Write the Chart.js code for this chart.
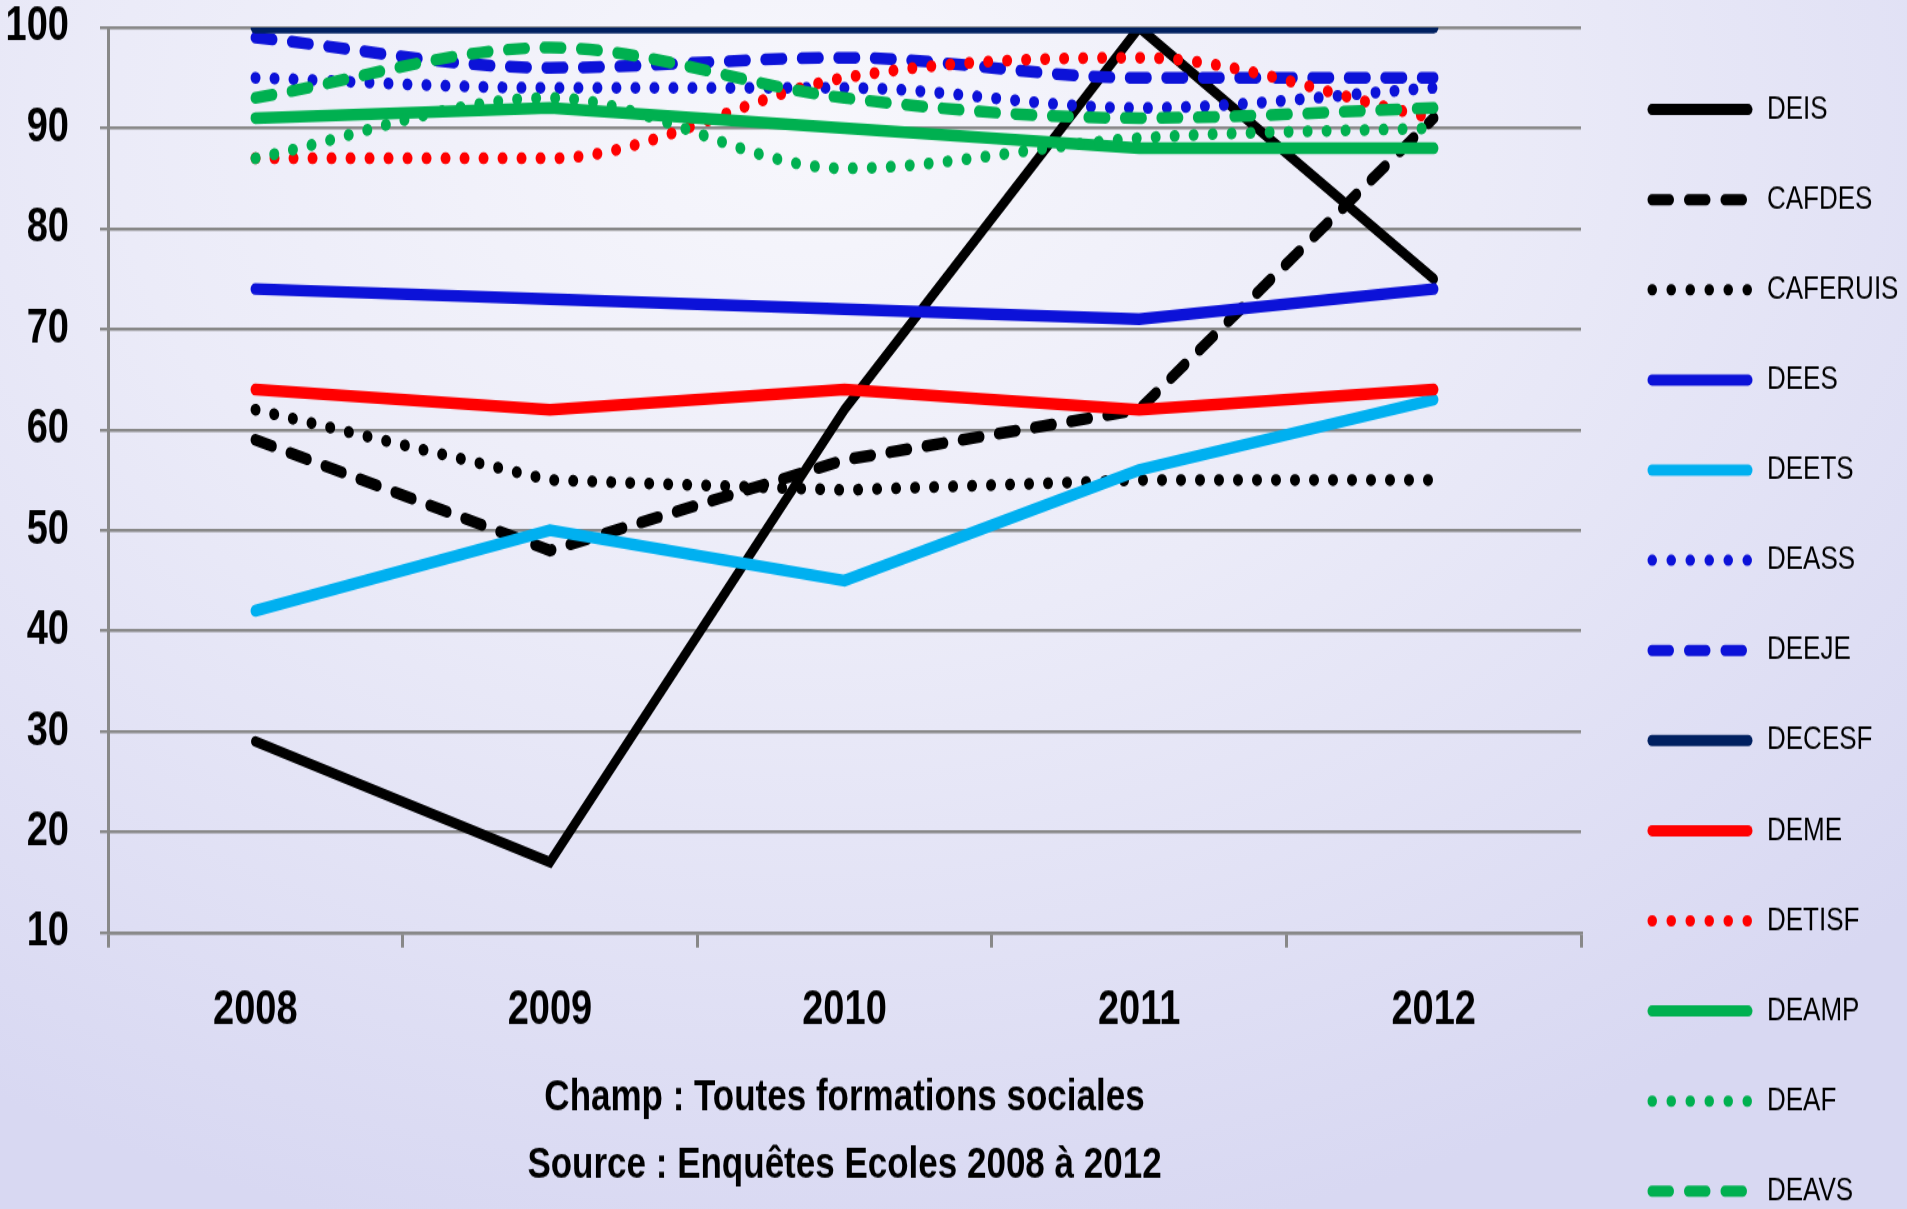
<!DOCTYPE html>
<html lang="fr">
<head>
<meta charset="utf-8">
<title>Taux de réussite par diplôme, 2008-2012</title>
<script src="https://cdn.jsdelivr.net/npm/chart.js@4.4.1/dist/chart.umd.min.js"></script>
<style>
    html, body { margin: 0; padding: 0; overflow: hidden; }
    body {
        width: 1907px;
        height: 1209px;
        background: radial-gradient(ellipse 80% 95% at 42% 10%, #f7f7fc 0%, #ebebf8 45%, #d8d8f2 100%);
    }
    /* the original picture is stretched vertically, so the canvas is too */
    #diplomes-chart { display: block; width: 1907px !important; height: 1209px !important; }
</style>
</head>
<body>
<canvas id="diplomes-chart" width="1907" height="967" style="width:1907px;height:1209px"></canvas>
<script>
const years = ['2008', '2009', '2010', '2011', '2012'];
const yTickValues = [10, 20, 30, 40, 50, 60, 70, 80, 90, 100];

const deis     = [29, 17, 62, 100, 75];
const cafdes   = [59, 48, 57, 62, 91];
const caferuis = [62, 55, 54, 55, 55];
const dees     = [74, 73, 72, 71, 74];
const deets    = [42, 50, 45, 56, 63];
const deass    = [95, 94, 94, 92, 94];
const deeje    = [99, 96, 97, 95, 95];
const decesf   = [100, 100, 100, 100, 100];
const deme     = [64, 62, 64, 62, 64];
const detisf   = [87, 87, 95, 97, 91];
const deamp    = [91, 92, 90, 88, 88];
const deaf     = [87, 93, 86, 89, 90];
const deavs    = [93, 98, 93, 91, 92];

const BLACK = '#000000';
const BLUE = '#0c12d8';
const CYAN = '#00b0f0';
const NAVY = '#002060';
const RED = '#ff0000';
const GREEN = '#00b050';
const GRID = '#888888';

const SOLID = [];
const DASH = [17.5, 19];
const DOT = [0.5, 18.5];

Chart.defaults.font.family = "'Liberation Sans', Arial, sans-serif";

function serie(label, data, color, dash, smooth, width) {
    return {
        label: label,
        data: data,
        borderColor: color,
        backgroundColor: color,
        borderWidth: width || 9.5,
        borderDash: dash,
        borderCapStyle: 'round',
        pointRadius: 0,
        tension: smooth ? 0.4 : 0,
        cubicInterpolationMode: smooth ? 'monotone' : 'default',
        clip: 0,
    };
}

const datasets = [
    serie('DEIS', deis, BLACK, SOLID, false, 8.5),
    serie('CAFDES', cafdes, BLACK, DASH, false),
    serie('CAFERUIS', caferuis, BLACK, DOT, false),
    serie('DEES', dees, BLUE, SOLID, false),
    serie('DEETS', deets, CYAN, SOLID, false),
    serie('DEASS', deass, BLUE, DOT, true),
    serie('DEEJE', deeje, BLUE, DASH, true),
    serie('DECESF', decesf, NAVY, SOLID, false),
    serie('DEME', deme, RED, SOLID, false),
    serie('DETISF', detisf, RED, DOT, true),
    serie('DEAMP', deamp, GREEN, SOLID, false),
    serie('DEAF', deaf, GREEN, DOT, true),
    serie('DEAVS', deavs, GREEN, DASH, true),
];
// later series are painted on top, like in the spreadsheet
datasets.forEach((ds, i) => { ds.order = datasets.length - i; });

// legend on the right, it runs past the bottom edge so chart.js' own legend can't do it
const sideLegend = {
    id: 'sideLegend',
    afterDraw(chart) {
        const ctx = chart.ctx;
        const top = 87.6;
        const step = 72.1;
        chart.data.datasets.forEach((ds, i) => {
            const y = top + i * step;
            ctx.save();
            ctx.strokeStyle = ds.borderColor;
            ctx.lineWidth = 9;
            ctx.lineCap = 'round';
            ctx.setLineDash(ds.borderDash);
            ctx.beginPath();
            ctx.moveTo(1652, y);
            ctx.lineTo(1748, y);
            ctx.stroke();
            ctx.setLineDash([]);
            ctx.fillStyle = BLACK;
            ctx.font = "26px 'Liberation Sans', Arial, sans-serif";
            ctx.textAlign = 'left';
            ctx.textBaseline = 'middle';
            ctx.fillText(ds.label, 1767, y);
            ctx.restore();
        });
    }
};

const diplomesCtx = document.getElementById('diplomes-chart');

new Chart(diplomesCtx, {
    type: 'line',
    data: {
        labels: years,
        datasets: datasets,
    },
    options: {
        responsive: false,
        animation: false,
        events: [],
        layout: {
            padding: { top: 22, right: 326, bottom: 17.5, left: 0 }
        },
        scales: {
            x: {
                offset: true,
                grid: {
                    offset: true,
                    drawOnChartArea: false,
                    tickLength: 12,
                    color: GRID,
                    lineWidth: 3,
                },
                border: { color: GRID, width: 2.4 },
                ticks: {
                    color: BLACK,
                    padding: 28,
                    font: { size: 38, weight: 'bold', lineHeight: 1.2 },
                },
            },
            y: {
                min: yTickValues[0],
                max: yTickValues[yTickValues.length - 1],
                afterBuildTicks: (scale) => {
                    scale.ticks = yTickValues.map(v => ({ value: v }));
                },
                afterFit: (scale) => {
                    scale.width = 108;
                    // the label gap should not push the plot down
                    scale.paddingTop = 19;
                    scale.paddingBottom = 19;
                },
                grid: {
                    color: GRID,
                    lineWidth: 2.4,
                    tickLength: 8,
                },
                border: { color: GRID, width: 3 },
                ticks: {
                    color: BLACK,
                    padding: 31,
                    font: { size: 38, weight: 'bold', lineHeight: 1 },
                },
            },
        },
        plugins: {
            legend: { display: false },
            tooltip: { enabled: false },
            subtitle: {
                display: true,
                position: 'bottom',
                fullSize: false,
                text: 'Champ : Toutes formations sociales',
                color: BLACK,
                font: { size: 35, weight: 'bold', lineHeight: 1 },
                padding: { top: 1, bottom: 0 },
            },
            title: {
                display: true,
                position: 'bottom',
                fullSize: false,
                text: 'Source : Enquêtes Ecoles 2008 à 2012',
                color: BLACK,
                font: { size: 35, weight: 'bold', lineHeight: 1 },
                padding: { top: 19, bottom: 0 },
            },
        },
    },
    plugins: [sideLegend],
});
</script>
</body>
</html>
